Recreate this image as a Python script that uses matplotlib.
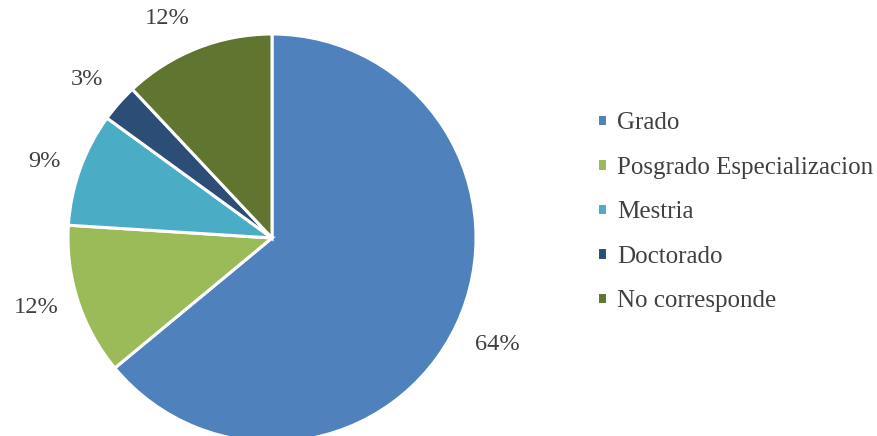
import matplotlib
matplotlib.use("Agg")
import matplotlib.pyplot as plt
import numpy as np

# Data
categories = ["Grado", "Posgrado Especializacion", "Mestria", "Doctorado", "No corresponde"]
shares = [64, 12, 9, 3, 12]
colors = ["#4F81BD", "#9BBB59", "#4BACC6", "#2C4D75", "#5F7530"]

FONT = "Liberation Serif"
TXT = "#404040"

W, H = 877, 436
fig = plt.figure(figsize=(W / 100, H / 100), dpi=100)

# pie centre (272, 238) from top, radius 204 px
cx, cy, r = 272, H - 238, 204
ax = fig.add_axes([(cx - r) / W, (cy - r) / H, 2 * r / W, 2 * r / H])

wedges, _ = ax.pie(
    shares,
    colors=colors,
    startangle=90,
    counterclock=False,
    wedgeprops=dict(edgecolor="white", linewidth=2.2),
)
ax.set_xlim(-1, 1)
ax.set_ylim(-1, 1)
ax.axis("off")

# outside-end labels, Excel style: box sits just outside the rim
for w, v in zip(wedges, shares):
    ang = np.deg2rad((w.theta1 + w.theta2) / 2)
    c, s = np.cos(ang), np.sin(ang)
    ha = "left" if c > 0.3 else ("right" if c < -0.3 else "center")
    va = "bottom" if s > 0.4 else ("top" if s < -0.4 else "center")
    ax.text(1.1 * c, 1.1 * s, f"{v}%", ha=ha, va=va,
            fontsize=17.6, color=TXT, family=FONT)

fig.legend(
    wedges, categories,
    loc="center left",
    bbox_to_anchor=(597 / W, 224 / H),
    frameon=False,
    borderpad=0,
    borderaxespad=0,
    prop=dict(family=FONT, size=18),
    labelcolor=TXT,
    handlelength=0.4,
    handleheight=0.4,
    handletextpad=0.4,
    labelspacing=0.9,
)

fig.savefig("out.png", dpi=100)
